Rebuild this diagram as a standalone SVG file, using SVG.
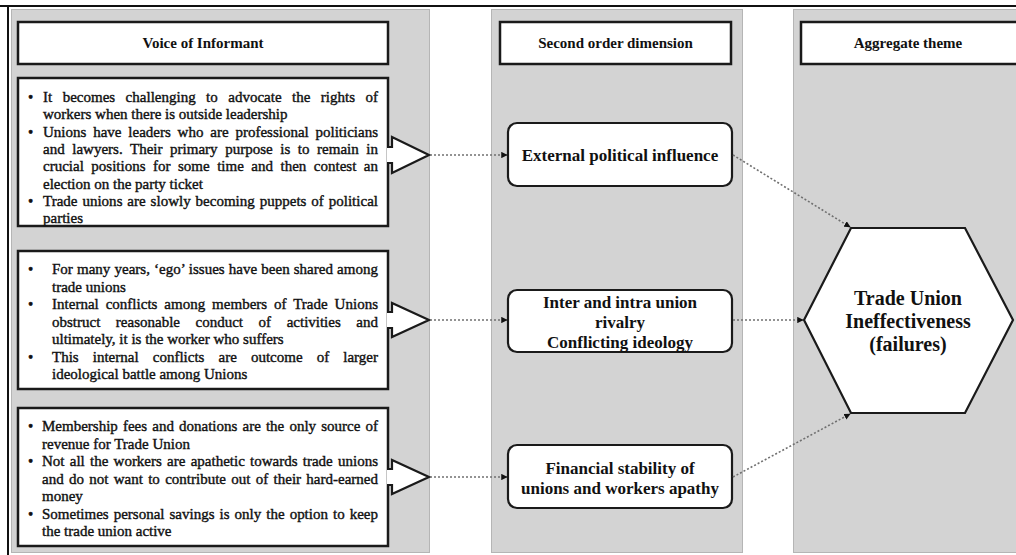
<svg xmlns="http://www.w3.org/2000/svg" width="1016" height="555" viewBox="0 0 1016 555">
  <style>
    .panel { fill: #d3d3d3; stroke: #b5b5b5; stroke-width: 1; }
    .hdr { fill: #ffffff; stroke: #1a1a1a; stroke-width: 2.5; }
    .box { fill: #ffffff; stroke: #1a1a1a; stroke-width: 2.5; }
    .node { fill: #ffffff; stroke: #1a1a1a; stroke-width: 2.2; }
    .hdr-t { font-family: "Liberation Serif", "Times New Roman", serif; font-weight: bold; font-size: 15px; fill: #111; text-anchor: middle; }
    .body { font-family: "Liberation Serif", "Times New Roman", serif; font-size: 15px; fill: #111; stroke: #111; stroke-width: 0.4; }
    .node-t { font-family: "Liberation Serif", "Times New Roman", serif; font-weight: bold; font-size: 17px; fill: #111; text-anchor: middle; }
    .hex-t { font-family: "Liberation Serif", "Times New Roman", serif; font-weight: bold; font-size: 20px; fill: #111; text-anchor: middle; }
    .conn { fill: none; stroke: #707070; stroke-width: 1.6; stroke-dasharray: 2 2; marker-end: url(#head); }
    .callout { fill: #ffffff; stroke: #1a1a1a; stroke-width: 2.2; stroke-linejoin: miter; }
  </style>
  <defs>
    <marker id="head" viewBox="0 0 10 10" refX="9" refY="5" markerWidth="4" markerHeight="4" orient="auto" markerUnits="strokeWidth">
      <path d="M0,0 L10,5 L0,10 z" fill="#111"/>
    </marker>
  </defs>

  <!-- background and frame -->
  <rect x="0" y="0" width="1016" height="555" fill="#ffffff"/>
  <line x1="0" y1="6" x2="1016" y2="6" stroke="#111" stroke-width="2"/>
  <line x1="8" y1="6" x2="8" y2="555" stroke="#111" stroke-width="2"/>

  <!-- column panels -->
  <g id="panels">
    <rect class="panel" x="11.5" y="9.5" width="418" height="543"/>
    <rect class="panel" x="491.5" y="9.5" width="251" height="543"/>
    <rect class="panel" x="793.5" y="9.5" width="230" height="543"/>
  </g>

  <!-- column headers -->
  <g id="header-informant">
    <rect class="hdr" x="18" y="22" width="370" height="42"/>
    <text class="hdr-t" x="203" y="48">Voice of Informant</text>
  </g>
  <g id="header-second-order">
    <rect class="hdr" x="500" y="22" width="231" height="42"/>
    <text class="hdr-t" x="615.5" y="48">Second order dimension</text>
  </g>
  <g id="header-aggregate">
    <rect class="hdr" x="801" y="22" width="225" height="42"/>
    <text class="hdr-t" x="908" y="48">Aggregate theme</text>
  </g>

  <!-- informant quotes: block 1 (justified lines use word spacing) -->
  <g id="quotes-political">
    <rect class="box" x="18" y="78" width="370" height="148"/>
    <path class="callout" d="M387,147 H392 V137 L429,155 L392,173 V163 H387"/>
    <g class="body">
      <text x="28" y="102">•</text>
      <text x="28" y="136.6">•</text>
      <text x="28" y="205.8">•</text>
      <text x="43" y="102" word-spacing="6.7" textLength="335" lengthAdjust="spacing">It becomes challenging to advocate the rights of</text>
      <text x="43" y="119.3">workers when there is outside leadership</text>
      <text x="43" y="136.6" word-spacing="3.1" textLength="335" lengthAdjust="spacing">Unions have leaders who are professional politicians</text>
      <text x="43" y="153.9" word-spacing="3.8" textLength="335" lengthAdjust="spacing">and lawyers. Their primary purpose is to remain in</text>
      <text x="43" y="171.2" word-spacing="3.75" textLength="335" lengthAdjust="spacing">crucial positions for some time and then contest an</text>
      <text x="43" y="188.5">election on the party ticket</text>
      <text x="43" y="205.8" word-spacing="1.1" textLength="335" lengthAdjust="spacing">Trade unions are slowly becoming puppets of political</text>
      <text x="43" y="223.1">parties</text>
    </g>
  </g>

  <!-- informant quotes: block 2 -->
  <g id="quotes-rivalry">
    <rect class="box" x="18" y="251" width="370" height="138"/>
    <path class="callout" d="M387,312 H392 V303 L429,320 L392,337 V328 H387"/>
    <g class="body">
      <text x="28" y="274">•</text>
      <text x="28" y="309">•</text>
      <text x="28" y="361.5">•</text>
      <text x="52" y="274" word-spacing="0.3" textLength="326" lengthAdjust="spacing">For many years, ‘ego’ issues have been shared among</text>
      <text x="52" y="291.5">trade unions</text>
      <text x="52" y="309" word-spacing="3.1" textLength="326" lengthAdjust="spacing">Internal conflicts among members of Trade Unions</text>
      <text x="52" y="326.5" word-spacing="11.8" textLength="326" lengthAdjust="spacing">obstruct reasonable conduct of activities and</text>
      <text x="52" y="344">ultimately, it is the worker who suffers</text>
      <text x="52" y="361.5" word-spacing="10.3" textLength="326" lengthAdjust="spacing">This internal conflicts are outcome of larger</text>
      <text x="52" y="379">ideological battle among Unions</text>
    </g>
  </g>

  <!-- informant quotes: block 3 -->
  <g id="quotes-financial">
    <rect class="box" x="18" y="408" width="370" height="138"/>
    <path class="callout" d="M387,469 H392 V460 L429,477 L392,494 V485 H387"/>
    <g class="body">
      <text x="28" y="431">•</text>
      <text x="28" y="466">•</text>
      <text x="28" y="518.5">•</text>
      <text x="42" y="431" word-spacing="1.4" textLength="336" lengthAdjust="spacing">Membership fees and donations are the only source of</text>
      <text x="42" y="448.5">revenue for Trade Union</text>
      <text x="42" y="466" word-spacing="1.5" textLength="336" lengthAdjust="spacing">Not all the workers are apathetic towards trade unions</text>
      <text x="42" y="483.5" word-spacing="1.55" textLength="336" lengthAdjust="spacing">and do not want to contribute out of their hard-earned</text>
      <text x="42" y="501">money</text>
      <text x="42" y="518.5" word-spacing="1.3" textLength="336" lengthAdjust="spacing">Sometimes personal savings is only the option to keep</text>
      <text x="42" y="536">the trade union active</text>
    </g>
  </g>

  <!-- second order dimensions -->
  <g id="dim-external">
    <rect class="node" x="508" y="123" width="224" height="63" rx="9"/>
    <text class="node-t" x="620" y="161">External political influence</text>
  </g>
  <g id="dim-rivalry">
    <rect class="node" x="508" y="290" width="224" height="62" rx="9"/>
    <text class="node-t" x="620" y="308">Inter and intra union</text>
    <text class="node-t" x="620" y="328">rivalry</text>
    <text class="node-t" x="620" y="348">Conflicting ideology</text>
  </g>
  <g id="dim-financial">
    <rect class="node" x="508" y="445" width="224" height="63" rx="9"/>
    <text class="node-t" x="620" y="474">Financial stability of</text>
    <text class="node-t" x="620" y="494">unions and workers apathy</text>
  </g>

  <!-- aggregate theme -->
  <g id="theme-ineffectiveness">
    <polygon points="851,228 965,228 1013,320 965,413 851,413 804,320" fill="#ffffff" stroke="#1a1a1a" stroke-width="2.2"/>
    <text class="hex-t" x="908" y="305">Trade Union</text>
    <text class="hex-t" x="908" y="328">Ineffectiveness</text>
    <text class="hex-t" x="908" y="351">(failures)</text>
  </g>

  <!-- dotted connectors -->
  <g id="connectors">
    <line class="conn" x1="430" y1="155" x2="507" y2="155"/>
    <line class="conn" x1="430" y1="320" x2="507" y2="320"/>
    <line class="conn" x1="430" y1="477" x2="507" y2="477"/>
    <line class="conn" x1="733" y1="155" x2="850" y2="227"/>
    <line class="conn" x1="733" y1="320" x2="803" y2="320"/>
    <line class="conn" x1="733" y1="477" x2="850" y2="414"/>
  </g>
</svg>
